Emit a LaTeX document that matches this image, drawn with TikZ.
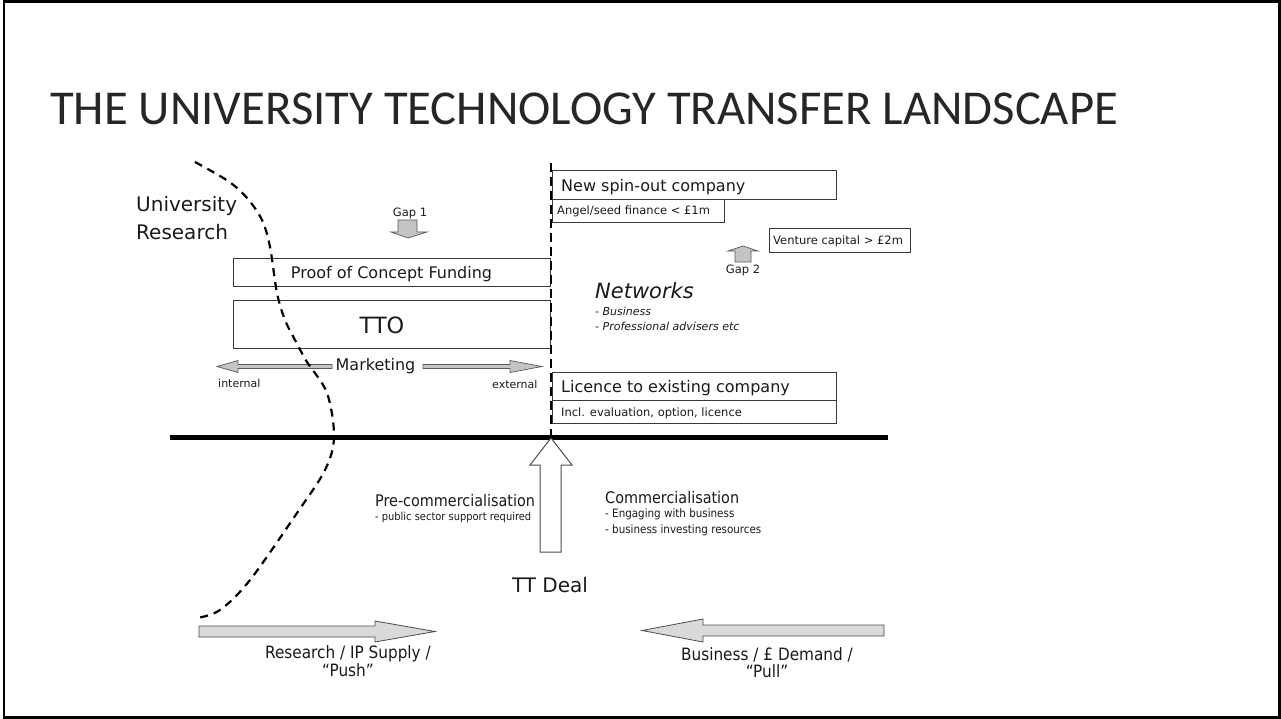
\documentclass[tikz,border=0pt]{standalone}
\usepackage{fontspec}
\setmainfont{DejaVu Sans}
\newfontfamily\condfont{DejaVu Sans Condensed}
\newfontfamily\titlefont{Carlito}
\definecolor{ink}{HTML}{1A1A1A}
\definecolor{boxline}{HTML}{3A3A3A}
\definecolor{arrowfill}{HTML}{C4C4C4}
\definecolor{bigfill}{HTML}{DADADA}
\begin{document}
\begin{tikzpicture}[x=1pt,y=-1pt,
  lbl/.style={inner sep=0pt, text=ink},
  box/.style={draw=boxline, line width=0.9pt, inner sep=0pt, anchor=north west},
  gaparrow/.style={draw=black!65, fill=arrowfill, line width=0.7pt},
  flowarrow/.style={draw=black!70, fill=bigfill, line width=0.8pt},
  dealarrow/.style={draw=black!70, fill=white, line width=1pt},
  fs/.style={font=\fontsize{#1}{#1}\selectfont},
  cs/.style={font=\condfont\fontsize{#1}{#1}\selectfont}
]
\useasboundingbox (0,0) rectangle (1281,719);
\draw[line width=2.5pt] (4,1.5) rectangle (1279.5,717.5);

% title
\node[lbl, text=black!85, anchor=base west] (title) at (50,125)
  {\resizebox{1068pt}{!}{\titlefont\fontsize{48}{48}\selectfont THE UNIVERSITY TECHNOLOGY TRANSFER LANDSCAPE}};

% left side labels
\node[lbl, fs=20, anchor=base west] (univ) at (136,212) {University};
\node[lbl, fs=20, anchor=base west] (res) at (136,240) {Research};

% boxes left
\node[box, minimum width=317pt, minimum height=28pt] (poc) at (233,258) {};
\node[lbl, fs=16, anchor=base] (poct) at (391.5,278) {Proof of Concept Funding};
\node[box, minimum width=317pt, minimum height=48pt] (tto) at (233,300) {};
\node[lbl, fs=22.4, anchor=base] (ttot) at (382,333) {TTO};

% gap 1
\node[lbl, fs=11.5, anchor=base] (gap1) at (410,217) {Gap 1};
\draw[gaparrow] (398,220) -- (417,220) -- (417,232) -- (427,232) -- (408,238) -- (391,232) -- (398,232) -- cycle;

% marketing
\node[lbl, fs=16, anchor=base] (mkt) at (375.5,370) {Marketing};
\draw[gaparrow] (332,364.5) -- (238,364.5) -- (238,360.5) -- (217,366.5) -- (238,372.5) -- (238,368.5) -- (332,368.5) -- cycle;
\draw[gaparrow] (423,364.5) -- (510,364.5) -- (510,360.5) -- (542,366.5) -- (510,372.5) -- (510,368.5) -- (423,368.5) -- cycle;
\node[lbl, fs=11, anchor=base west] (intl) at (218,387) {internal};
\node[lbl, fs=11, anchor=base west] (extl) at (492,388) {external};

% right boxes
\node[box, minimum width=284pt, minimum height=29pt] (spin) at (552,170) {};
\node[lbl, fs=16, anchor=base west] (spint) at (561,192) {New spin-out company};
\node[box, minimum width=172pt, minimum height=23pt] (angel) at (552,199) {};
\node[lbl, fs=11.5, anchor=base west] (angelt) at (557,215) {Angel/seed finance < £1m};
\node[box, minimum width=141pt, minimum height=24pt] (vc) at (769,228) {};
\node[lbl, fs=11.5, anchor=base west] (vct) at (773,244) {Venture capital > £2m};

% gap 2
\draw[gaparrow] (735,262) -- (751,262) -- (751,251) -- (758,251) -- (743,246) -- (728,251) -- (735,251) -- cycle;
\node[lbl, fs=11.5, anchor=base] (gap2) at (743,273) {Gap 2};

% networks
\node[lbl, fs=21, anchor=base west] (net) at (595,298) {\itshape Networks};
\node[lbl, fs=11, anchor=base west] (net1) at (595,315) {\itshape - Business};
\node[lbl, fs=11, anchor=base west] (net2) at (595,330) {\itshape - Professional advisers etc};

\node[box, minimum width=284pt, minimum height=28pt] (lic) at (552,372) {};
\node[lbl, fs=16, anchor=base west] (lict) at (561,392) {Licence to existing company};
\node[box, minimum width=284pt, minimum height=23pt] (incl) at (552,400) {};
\node[lbl, fs=11.5, anchor=base west] (inclt) at (561,416) {Incl. evaluation, option, licence};

% baseline
\coordinate (bl) at (170,437);
\coordinate (br) at (888,437);
\draw[line width=5pt, black] (bl) -- (br);

% TT deal arrow
\coordinate (tip) at (551,438);
\draw[dealarrow] (540,552) -- (561,552) -- (561,465) -- (572,465) -- (tip) -- (530,465) -- (540,465) -- cycle;
\node[lbl, fs=20, anchor=base] (deal) at (550,592) {TT Deal};

% vertical dashed divider
\coordinate (dtop) at (551,163);
\draw[line width=2pt, dash pattern=on 9pt off 5pt] (dtop) -- (tip);

% lower texts
\node[lbl, cs=16, anchor=base west] (pre) at (375,506) {Pre-commercialisation};
\node[lbl, cs=11, anchor=base west] (pre1) at (375,520) {- public sector support required};
\node[lbl, cs=16, anchor=base west] (com) at (605,503) {Commercialisation};
\node[lbl, cs=11.5, anchor=base west] (com1) at (605,517) {- Engaging with business};
\node[lbl, cs=11.5, anchor=base west] (com2) at (605,533) {- business investing resources};

% push / pull arrows
\draw[flowarrow] (199,626) -- (375,626) -- (375,621) -- (435,631.5) -- (375,642) -- (375,637) -- (199,637) -- cycle;
\node[lbl, cs=17, anchor=base] (push1) at (348,658) {Research / IP Supply /};
\node[lbl, cs=17, anchor=base] (push2) at (348,676) {“Push”};
\draw[flowarrow] (884,625) -- (703,625) -- (703,619) -- (642,630.5) -- (703,642) -- (703,636) -- (884,636) -- cycle;
\node[lbl, cs=17, anchor=base] (pull1) at (767,660) {Business / £ Demand /};
\node[lbl, cs=17, anchor=base] (pull2) at (767,677) {“Pull”};

% university research boundary
\draw[line width=2.2pt, dash pattern=on 8pt off 6pt] plot[smooth, tension=0.55] coordinates {
  (195,162) (228,181) (247,198) (262,220) (270,247) (277,293) (285,320) (295,340)
  (307,362) (327,393) (334,437) (325,470) (297,513) (250,580) (220,610) (197,618)};
\end{tikzpicture}
\end{document}
